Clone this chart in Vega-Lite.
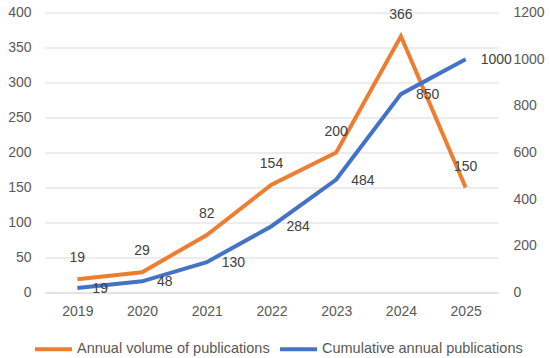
{
  "$schema": "https://vega.github.io/schema/vega-lite/v6.json",
  "width": 453,
  "height": 280,
  "autosize": {"type": "none"},
  "padding": {"left": 45, "top": 12.5, "right": 52, "bottom": 65.5},
  "background": "white",
  "config": {
    "view": {"stroke": null},
    "font": "Liberation Sans",
    "axis": {"labelFont": "Liberation Sans", "labelFontSize": 14, "labelColor": "#595959", "ticks": false, "domain": false, "title": null}
  },
  "data": {
    "values": [
      {"year": "2019", "series": "Annual volume of publications", "value": 19},
      {"year": "2020", "series": "Annual volume of publications", "value": 29},
      {"year": "2021", "series": "Annual volume of publications", "value": 82},
      {"year": "2022", "series": "Annual volume of publications", "value": 154},
      {"year": "2023", "series": "Annual volume of publications", "value": 200},
      {"year": "2024", "series": "Annual volume of publications", "value": 366},
      {"year": "2025", "series": "Annual volume of publications", "value": 150},
      {"year": "2019", "series": "Cumulative annual publications", "value": 19},
      {"year": "2020", "series": "Cumulative annual publications", "value": 48},
      {"year": "2021", "series": "Cumulative annual publications", "value": 130},
      {"year": "2022", "series": "Cumulative annual publications", "value": 284},
      {"year": "2023", "series": "Cumulative annual publications", "value": 484},
      {"year": "2024", "series": "Cumulative annual publications", "value": 850},
      {"year": "2025", "series": "Cumulative annual publications", "value": 1000}
    ]
  },
  "encoding": {
    "x": {"field": "year", "type": "ordinal", "scale": {"type": "point", "padding": 0.5},
      "axis": {"labelAngle": 0, "domain": true, "domainColor": "#d9d9d9", "labelPadding": 12, "grid": false}}
  },
  "layer": [
    {
      "transform": [{"filter": "datum.series === 'Annual volume of publications'"}],
      "encoding": {
        "y": {"field": "value", "type": "quantitative", "scale": {"domain": [0, 400]},
          "axis": {"orient": "left", "values": [0, 50, 100, 150, 200, 250, 300, 350, 400], "grid": true, "gridColor": "#d9d9d9", "gridWidth": 1, "labelPadding": 14}}
      },
      "layer": [
        {
          "mark": {"type": "line", "strokeWidth": 4},
          "encoding": {
            "color": {"field": "series", "type": "nominal",
              "scale": {"domain": ["Annual volume of publications", "Cumulative annual publications"], "range": ["#ED7D31", "#4472C4"]},
              "legend": {"orient": "none", "direction": "horizontal", "legendX": -12, "legendY": 316, "title": null,
                "symbolType": "stroke", "symbolSize": 1369, "symbolStrokeWidth": 4, "labelFontSize": 14.5, "labelColor": "#595959",
                "labelFont": "Liberation Sans", "labelOffset": 3, "columnPadding": 2, "padding": 0, "labelLimit": 400}}
          }
        },
        {
          "mark": {"type": "text", "dy": -21, "fontSize": 14, "color": "#404040", "baseline": "middle", "align": "center"},
          "encoding": {"text": {"field": "value", "type": "quantitative"}}
        }
      ]
    },
    {
      "transform": [{"filter": "datum.series === 'Cumulative annual publications'"}],
      "encoding": {
        "y": {"field": "value", "type": "quantitative", "scale": {"domain": [0, 1200]},
          "axis": {"orient": "right", "values": [0, 200, 400, 600, 800, 1000, 1200], "format": "d", "grid": false, "labelPadding": 15}}
      },
      "layer": [
        {
          "mark": {"type": "line", "strokeWidth": 4},
          "encoding": {"color": {"field": "series", "type": "nominal"}}
        },
        {
          "mark": {"type": "text", "dx": 15, "dy": 1, "fontSize": 14, "color": "#404040", "baseline": "middle", "align": "left"},
          "encoding": {"text": {"field": "value", "type": "quantitative", "format": "d"}}
        }
      ]
    }
  ],
  "resolve": {"scale": {"y": "independent"}}
}
